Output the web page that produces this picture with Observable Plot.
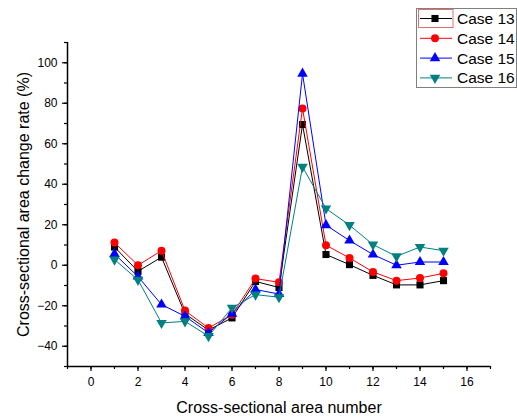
<!DOCTYPE html>
<html><head><meta charset="utf-8">
<script src="https://cdn.jsdelivr.net/npm/d3@7"></script>
<script src="https://cdn.jsdelivr.net/npm/@observablehq/plot@0.6"></script>
<style>body{margin:0;background:#fff;font-family:"Liberation Sans",Arial,sans-serif}</style>
</head><body><div id="chart"></div>
<script>
const sectionNumbers = [1,2,3,4,5,6,7,8,9,10,11,12,13,14,15];
const case13 = [9,-3,4,-24,-32,-26,-8,-11,69.5,5.3,0.3,-5,-9.7,-9.7,-7.6];
const case14 = [11.2,0,7.2,-22.4,-31,-24.4,-6.6,-8.4,77.4,9.9,3.6,-3.3,-7.6,-6.3,-4];
const case15 = [5.6,-5.6,-19.4,-25.2,-33.4,-23.9,-12,-14.2,94.6,19.8,12.2,5.3,0,1.6,1.6];
const case16 = [2.8,-7.2,-28.5,-27.7,-35,-21,-14.5,-15.8,48.6,28,19.8,10.2,4.4,9,7.2];
const seriesNames = ["Case 13","Case 14","Case 15","Case 16"];
const seriesValues = [case13, case14, case15, case16];
const xMajorTicks = [0,2,4,6,8,10,12,14,16];
const yMajorTicks = [-40,-20,0,20,40,60,80,100];

const colors = ["#000000","#ff0000","#0000ff","#008080"];
const sqrt3 = Math.sqrt(3);
const triangleDown = {draw(context, size){
  const y = -Math.sqrt(size / (sqrt3 * 3));
  context.moveTo(0, -y * 2);
  context.lineTo(-sqrt3 * y, y);
  context.lineTo(sqrt3 * y, y);
  context.closePath();
}};
const symbols = [d3.symbolSquare, d3.symbolCircle, d3.symbolTriangle, triangleDown];
const radii = [4, 4, 3.9, 3.9];

const table = seriesNames.map((name, i) => sectionNumbers.map((x, j) => ({x, y: seriesValues[i][j], name})));

const marks = [];
table.forEach((rows, i) => {
  marks.push(Plot.line(rows, {x: "x", y: "y", stroke: colors[i], strokeWidth: 1}));
  marks.push(Plot.dot(rows, {x: "x", y: "y", symbol: symbols[i], r: radii[i], fill: colors[i], stroke: "none"}));
});

const chart = Plot.plot({
  width: 517, height: 419,
  marginLeft: 67, marginRight: 27, marginTop: 42, marginBottom: 53,
  style: {fontFamily: '"Liberation Sans", Arial, sans-serif', background: "#fff", overflow: "visible"},
  x: {domain: [-1, 17]},
  y: {domain: [-50, 110]},
  marks: [
    Plot.axisX({ticks: d3.range(-1, 18, 1), tickSize: 3, text: null, label: null, strokeWidth: 1.2}),
    Plot.axisX({ticks: xMajorTicks, tickSize: 5, tickPadding: 6, fontSize: 12, label: "Cross-sectional area number", labelAnchor: "center", labelArrow: "none", labelOffset: 46, strokeWidth: 1.2}),
    Plot.axisY({ticks: d3.range(-50, 111, 10), tickSize: 3, text: null, label: null, strokeWidth: 1.2}),
    Plot.axisY({ticks: yMajorTicks, tickSize: 5, tickPadding: 5, fontSize: 12, label: "Cross-sectional area change rate (%)", labelAnchor: "center", labelArrow: "none", labelOffset: 50, strokeWidth: 1.2}),
    Plot.ruleX([-1], {stroke: "#000", strokeWidth: 1.5}),
    Plot.ruleY([-50], {stroke: "#000", strokeWidth: 1.5}),
    ...marks
  ]
});
d3.select(chart).selectAll("g[aria-label='x-axis label'] text, g[aria-label='y-axis label'] text").style("font-size", "16px");
document.getElementById("chart").appendChild(chart);

// legend drawn inside the SVG
const svg = d3.select(chart);
const lg = svg.append("g").attr("font-family", '"Liberation Sans", Arial, sans-serif').attr("text-anchor", "start");
lg.append("rect").attr("x", 416.5).attr("y", 8.5).attr("width", 100).attr("height", 79)
  .attr("fill", "#fff").attr("stroke", "#808080").attr("stroke-width", 1);
lg.append("rect").attr("x", 418.5).attr("y", 9.5).attr("width", 34.5).attr("height", 18)
  .attr("fill", "none").attr("stroke", "#e07070").attr("stroke-width", 1);
seriesNames.forEach((name, i) => {
  const cy = 18.5 + i * 19.8;
  lg.append("line").attr("x1", 420).attr("x2", 452).attr("y1", cy).attr("y2", cy)
    .attr("stroke", colors[i]).attr("stroke-width", 1);
  lg.append("path").attr("d", d3.symbol(symbols[i], Math.PI * radii[i] * radii[i])())
    .attr("transform", `translate(435,${cy})`).attr("fill", colors[i]);
  lg.append("text").attr("x", 457).attr("y", cy).attr("dy", "0.36em")
    .attr("text-anchor", "start").attr("font-size", 15.5).attr("fill", "#000").text(name);
});
</script></body></html>
